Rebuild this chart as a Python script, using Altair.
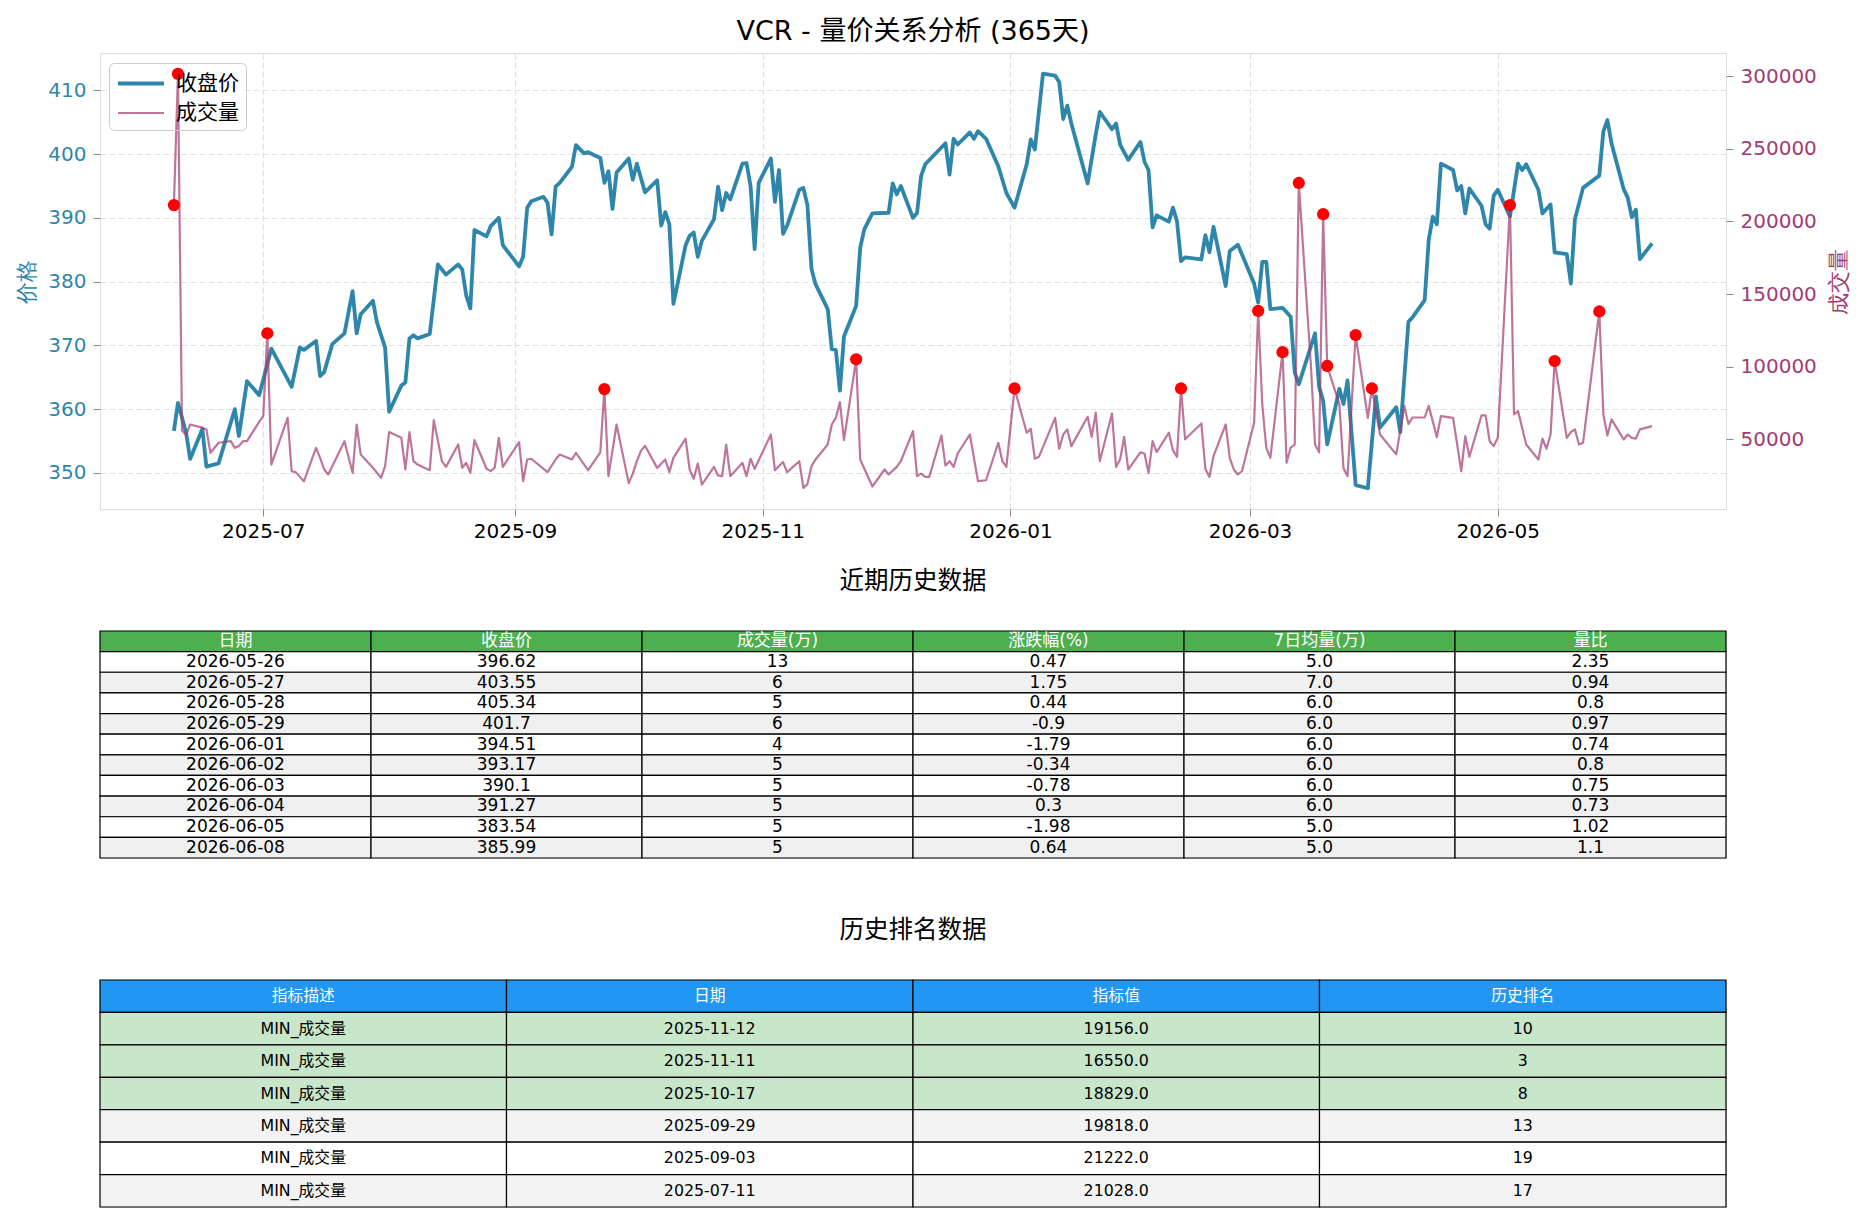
import altair as alt
import pandas as pd

FONT = "DejaVu Sans, Noto Sans CJK SC"
TICKFONT = "DejaVu Sans"
BLUE = "#2E86AB"
PINK = "#A23B72"

START = "2025-06-09"

# ---- close price (day offset from START, value) ----
price_days = [0, 1, 3, 4, 7, 8, 11, 15, 16, 18, 21, 24, 29, 31, 32, 35, 36, 37, 39, 42, 44, 45, 46, 49, 50, 52, 53,
              56, 57, 58, 59, 60, 63, 65, 67, 70, 71, 72, 73, 74, 77, 78, 80, 81, 85, 86, 87, 88, 91, 92, 93, 94, 95,
              98, 99, 101, 102, 105, 106, 107, 108, 109, 112, 113, 114, 116, 119, 120, 121, 122, 123, 126, 127, 128,
              129, 130, 133, 134, 135, 136, 137, 140, 141, 142, 143, 144, 147, 148, 149, 150, 151, 154, 155, 156, 157,
              158, 161, 162, 163, 164, 165, 168, 169, 170, 172, 176, 177, 178, 179, 182, 183, 184, 185, 190, 191, 192,
              193, 196, 197, 198, 200, 203, 205, 207, 210, 211, 212, 214, 217, 218, 219, 220, 221, 225, 227, 228, 231,
              232, 233, 235, 238, 239, 240, 241, 242, 245, 246, 247, 248, 249, 253, 254, 255, 256, 259, 260, 262, 266,
              267, 268, 269, 270, 273, 275, 276, 277, 281, 282, 283, 284, 287, 288, 289, 291, 294, 296, 297, 301, 302,
              304, 305, 308, 309, 310, 311, 312, 315, 316, 317, 318, 319, 322, 323, 324, 325, 326, 329, 331, 332, 333,
              336, 337, 339, 340, 343, 344, 345, 347, 351, 352, 353, 354, 357, 358, 359, 360, 361, 364]
price_vals = [356.6, 361.0, 356.3, 352.2, 356.9, 351.0, 351.5, 360.0, 355.8, 364.4, 362.2, 369.5, 363.5, 369.7, 369.3,
              370.7, 365.2, 365.8, 370.2, 371.9, 378.5, 371.9, 374.9, 377.0, 373.6, 369.7, 359.6, 363.7, 364.2, 371.1,
              371.6, 371.1, 371.8, 382.7, 381.1, 382.7, 381.9, 377.8, 375.8, 388.1, 387.1, 388.7, 390.0, 385.7, 382.4,
              383.9, 391.6, 392.6, 393.3, 392.4, 387.4, 394.9, 395.5, 398.0, 401.4, 400.1, 400.3, 399.4, 395.5, 397.3,
              391.4, 397.1, 399.3, 396.0, 398.5, 394.0, 395.9, 388.8, 390.9, 389.0, 376.5, 385.7, 387.2, 387.7, 383.9,
              386.4, 389.8, 394.9, 391.2, 393.9, 392.9, 398.5, 398.6, 395.0, 385.1, 395.5, 399.3, 392.5, 397.5, 387.5,
              388.8, 394.4, 394.7, 392.0, 382.0, 379.6, 375.7, 369.4, 369.3, 362.9, 371.4, 376.2, 385.3, 388.2, 390.7,
              390.8, 395.4, 393.7, 395.0, 390.0, 390.8, 396.6, 398.4, 401.7, 396.8, 402.4, 401.5, 403.4, 402.4, 403.6,
              402.4, 398.1, 393.9, 391.6, 398.4, 402.3, 400.7, 412.6, 412.3, 411.3, 405.5, 407.6, 404.8, 395.4, 403.1,
              406.6, 403.9, 404.8, 401.5, 399.1, 401.9, 398.8, 397.5, 388.5, 390.4, 389.4, 391.6, 389.5, 383.2, 383.8,
              383.5, 387.3, 384.6, 388.6, 379.3, 384.8, 385.8, 379.7, 376.7, 383.1, 383.1, 375.7, 375.9, 374.5, 365.8,
              363.9, 371.9, 363.5, 361.3, 354.5, 363.2, 360.8, 364.5, 348.1, 347.6, 362.0, 357.1, 360.3, 356.4, 373.7,
              374.4, 377.1, 386.6, 390.2, 389.0, 398.5, 397.5, 394.3, 395.0, 390.7, 394.6, 391.9, 389.0, 388.3, 393.5,
              394.4, 390.2, 398.5, 397.5, 398.4, 394.4, 390.7, 392.1, 384.6, 384.3, 379.7, 389.8, 394.7, 396.62, 403.55,
              405.34, 401.7, 394.51, 393.17, 390.1, 391.27, 383.54, 385.99]

# ---- volume (day offset from START, value) ----
vol_days = [0, 1, 2, 3, 4, 7, 8, 9, 11, 14, 15, 16, 17, 18, 21, 22, 23, 24, 28, 29, 30, 32, 35, 36, 37, 38, 42, 44, 45,
            46, 49, 51, 52, 53, 56, 57, 58, 59, 60, 63, 64, 66, 67, 70, 71, 72, 73, 74, 77, 78, 79, 80, 81, 85, 86, 87,
            88, 92, 94, 95, 98, 99, 102, 105, 106, 107, 109, 112, 113, 114, 115, 116, 119, 121, 122, 123, 126, 127, 128,
            129, 130, 133, 134, 135, 136, 137, 140, 141, 142, 143, 147, 148, 150, 151, 154, 155, 156, 157, 158, 161,
            162, 163, 164, 165, 168, 169, 172, 175, 176, 178, 179, 182, 183, 184, 185, 186, 189, 190, 191, 192, 193,
            196, 198, 200, 203, 204, 205, 207, 210, 211, 212, 213, 217, 218, 219, 220, 221, 225, 226, 227, 228, 231,
            232, 233, 234, 235, 238, 239, 240, 241, 242, 245, 246, 247, 248, 249, 253, 254, 255, 256, 259, 260, 261,
            262, 263, 266, 267, 268, 269, 270, 273, 274, 275, 276, 277, 280, 281, 282, 283, 284, 287, 288, 289, 291,
            294, 295, 297, 301, 303, 304, 305, 308, 309, 311, 312, 315, 317, 318, 319, 322, 323, 324, 325, 326, 329,
            330, 331, 333, 336, 337, 338, 339, 340, 343, 344, 345, 346, 347, 351, 352, 353, 354, 357, 358, 359, 360,
            361, 364]
vol_vals = [211300, 301600, 56000, 53000, 60200, 58000, 56800, 40700, 47600, 48700, 44100, 45300, 48700, 48700, 62000,
            66000, 123000, 32600, 64800, 28000, 27400, 21028, 44100, 37200, 29200, 25800, 48700, 26900, 60200, 39500,
            30400, 23500, 31500, 55000, 51000, 29200, 55000, 35000, 32600, 28700, 63200, 34900, 31000, 46400, 30400,
            33800, 26900, 49400, 29700, 28100, 30400, 51000, 31000, 48000, 21222, 36100, 36600, 27400, 36100, 39500,
            36100, 40700, 28700, 41000, 84600, 24600, 60200, 19818, 26400, 35000, 42000, 45500, 30300, 36100, 27400,
            37200, 50400, 29200, 22800, 33300, 18829, 31000, 25100, 24600, 46400, 24600, 33800, 24600, 36600, 29600,
            53300, 28700, 34300, 27400, 34900, 16550, 19156, 31500, 36100, 46400, 60200, 64800, 75600, 49400, 105100,
            36100, 17500, 29200, 25800, 31000, 34900, 55600, 24600, 26400, 24100, 24100, 52600, 31900, 34900, 31000,
            40200, 53300, 21200, 21800, 47600, 34900, 31000, 85000, 54500, 57300, 36600, 37900, 64800, 43500, 53300,
            56800, 45300, 65500, 51700, 68300, 34900, 67800, 31000, 36100, 51700, 29200, 41000, 40200, 26900, 48700,
            41200, 54500, 42500, 37900, 85000, 50000, 60900, 29600, 24100, 38400, 60200, 37200, 29200, 25800, 28000,
            61400, 138400, 74000, 44100, 37200, 110000, 33800, 44300, 46400, 226500, 100000, 46400, 41000, 205000,
            100500, 74000, 30300, 24600, 121800, 64800, 85000, 53300, 39600, 73000, 60500, 65000, 65000, 73000, 51500,
            66000, 64800, 28100, 52200, 38000, 66500, 66500, 48700, 45300, 51000, 211300, 67100, 69400, 46400, 36100,
            50400, 43500, 53300, 103900, 51000, 55000, 56800, 46400, 47600, 138000, 67000, 52600, 63700, 49900, 53300,
            51000, 50500, 56800, 59100]

# ---- volume spikes marked with red dots ----
spike_days = [0, 1, 23, 106, 168, 207, 248, 267, 273, 277, 283, 284, 291, 295, 329, 340, 351]

# ---- recent history table ----
t1_header = ["日期", "收盘价", "成交量(万)", "涨跌幅(%)", "7日均量(万)", "量比"]
t1_dates = ["2026-05-26", "2026-05-27", "2026-05-28", "2026-05-29", "2026-06-01",
            "2026-06-02", "2026-06-03", "2026-06-04", "2026-06-05", "2026-06-08"]
t1_close = [396.62, 403.55, 405.34, 401.7, 394.51, 393.17, 390.1, 391.27, 383.54, 385.99]
t1_vol = [13, 6, 5, 6, 4, 5, 5, 5, 5, 5]
t1_pct = [0.47, 1.75, 0.44, -0.9, -1.79, -0.34, -0.78, 0.3, -1.98, 0.64]
t1_avg7 = [5.0, 7.0, 6.0, 6.0, 6.0, 6.0, 6.0, 6.0, 5.0, 5.0]
t1_ratio = [2.35, 0.94, 0.8, 0.97, 0.74, 0.8, 0.75, 0.73, 1.02, 1.1]

# ---- ranking table ----
t2_header = ["指标描述", "日期", "指标值", "历史排名"]
t2_desc = ["MIN_成交量"] * 6
t2_dates = ["2025-11-12", "2025-11-11", "2025-10-17", "2025-09-29", "2025-09-03", "2025-07-11"]
t2_vals = [19156.0, 16550.0, 18829.0, 19818.0, 21222.0, 21028.0]
t2_rank = [10, 3, 8, 13, 19, 17]
t2_highlight = [True, True, True, False, False, False]


def to_dates(days):
    base = pd.Timestamp(START)
    return [(base + pd.Timedelta(days=int(d))).strftime("%Y-%m-%d") for d in days]


price_df = pd.DataFrame({"date": to_dates(price_days), "price": price_vals, "series": "收盘价"})
vol_df = pd.DataFrame({"date": to_dates(vol_days), "volume": vol_vals, "series": "成交量"})
spike_df = vol_df[[d in spike_days for d in vol_days]].copy()

W = 1626
H_MAIN = 456
H_TAB = 227
TICK_FS = 20
AXT_FS = 22

x_enc = alt.X(
    "date:T", title=None,
    scale=alt.Scale(type="utc", nice=False, domain=[
        alt.DateTime(year=2025, month=5, date=21, hours=19, minutes=12, utc=True),
        alt.DateTime(year=2026, month=6, date=26, hours=4, minutes=48, utc=True)]),
    axis=alt.Axis(values=[alt.DateTime(year=2025, month=7, date=1, utc=True),
                          alt.DateTime(year=2025, month=9, date=1, utc=True),
                          alt.DateTime(year=2025, month=11, date=1, utc=True),
                          alt.DateTime(year=2026, month=1, date=1, utc=True),
                          alt.DateTime(year=2026, month=3, date=1, utc=True),
                          alt.DateTime(year=2026, month=5, date=1, utc=True)],
                  format="%Y-%m", labelFontSize=TICK_FS, labelFont=TICKFONT, labelColor="black",
                  tickSize=7, labelPadding=5, grid=True, gridDash=[6, 3], gridColor="#e0e0e0",
                  gridWidth=1.2, domain=False, labelFlush=False))

series_domain = ["收盘价", "成交量"]
color_enc = alt.Color("series:N", scale=alt.Scale(domain=series_domain, range=[BLUE, PINK]),
                      legend=alt.Legend(title=None, orient="none", legendX=9, legendY=10,
                                        symbolType="M-1,0L3,0", symbolSize=529,
                                        labelFontSize=21, labelFont=FONT, labelOffset=33,
                                        strokeColor="#cccccc",
                                        cornerRadius=5, padding=7, rowPadding=6))
width_enc = alt.StrokeWidth("series:N", scale=alt.Scale(domain=series_domain, range=[3.8, 2.2]))
opac_enc = alt.Opacity("series:N", scale=alt.Scale(domain=series_domain, range=[1.0, 0.7]))

# white panel behind the legend: hides the grid there, while the volume line and dots stay on top
legend_bg = alt.Chart(pd.DataFrame({"k": [0]})).mark_rect(fill="white").encode(
    x=alt.value(10), x2=alt.value(145), y=alt.value(11), y2=alt.value(76))

price_line = alt.Chart(price_df).mark_line(strokeJoin="round").encode(
    x=x_enc,
    y=alt.Y("price:Q", scale=alt.Scale(domain=[344.35, 415.85], nice=False, zero=False),
            axis=alt.Axis(orient="left", title="价格", values=[350, 360, 370, 380, 390, 400, 410],
                          labelColor=BLUE, titleColor=BLUE, labelFontSize=TICK_FS, labelFont=TICKFONT,
                          titleFontSize=AXT_FS, titleFontWeight="normal", tickSize=7, labelPadding=7,
                          titlePadding=9, grid=True, gridDash=[6, 3], gridColor="#e0e0e0", gridWidth=1.2,
                          domain=False)),
    color=color_enc, strokeWidth=width_enc, opacity=opac_enc)

vol_axis = alt.Axis(orient="right", title="成交量",
                    values=[50000, 100000, 150000, 200000, 250000, 300000], format="d",
                    labelColor=PINK, titleColor=PINK, labelFontSize=TICK_FS, labelFont=TICKFONT,
                    titleFontSize=AXT_FS, titleFontWeight="normal", tickSize=7, labelPadding=7,
                    titlePadding=12, grid=False, domain=False, titleAngle=270, titleBaseline="top")
vol_scale = alt.Scale(domain=[2000, 316000], nice=False, zero=False)
vol_y = alt.Y("volume:Q", scale=vol_scale, axis=vol_axis)

vol_line = alt.Chart(vol_df).mark_line(strokeJoin="round").encode(
    x=x_enc, y=vol_y, color=color_enc, strokeWidth=width_enc, opacity=opac_enc)

spikes = alt.Chart(spike_df).mark_circle(color="#FF0000", size=150, opacity=1).encode(
    x=x_enc, y=vol_y)

main = alt.layer(legend_bg, price_line, alt.layer(vol_line, spikes)).resolve_scale(y="independent").properties(
    width=W, height=H_MAIN,
    title=alt.Title("VCR - 量价关系分析 (365天)", fontSize=27, font=FONT, fontWeight="normal",
                    color="black", anchor="middle", frame="group", baseline="middle", offset=-6))


def make_table(header, columns, kinds, kind_domain, kind_range, font_size, title):
    ncols = len(header)
    nrows = len(columns[0]) + 1
    recs = []
    for j, h in enumerate(header):
        recs.append(dict(c0=j, c1=j + 1, cm=j + 0.5, r0=0, r1=1, rm=0.5, label=h, kind="head"))
    for i in range(nrows - 1):
        for j in range(ncols):
            recs.append(dict(c0=j, c1=j + 1, cm=j + 0.5, r0=i + 1, r1=i + 2, rm=i + 1.5,
                             label=str(columns[j][i]), kind=kinds[i]))
    df = pd.DataFrame(recs)
    xs = alt.Scale(domain=[0, ncols], nice=False, zero=False)
    ys = alt.Scale(domain=[0, nrows], nice=False, zero=False, reverse=True)
    rects = alt.Chart(df).mark_rect(stroke="black", strokeWidth=1.2).encode(
        x=alt.X("c0:Q", scale=xs, axis=None), x2="c1:Q",
        y=alt.Y("r0:Q", scale=ys, axis=None), y2="r1:Q",
        fill=alt.Fill("kind:N", scale=alt.Scale(domain=kind_domain, range=kind_range), legend=None))
    texts = alt.Chart(df).mark_text(font=FONT, fontSize=font_size, baseline="middle", align="center").encode(
        x=alt.X("cm:Q", scale=xs, axis=None),
        y=alt.Y("rm:Q", scale=ys, axis=None),
        text="label:N",
        color=alt.condition("datum.kind == 'head'", alt.value("white"), alt.value("black")))
    return alt.layer(rects, texts).properties(
        width=W, height=H_TAB,
        title=alt.Title(title, fontSize=24.5, font=FONT, fontWeight="normal", color="black",
                        anchor="middle", frame="group", baseline="middle", offset=24))


t1_kinds = ["white" if i % 2 == 0 else "gray" for i in range(len(t1_dates))]
table1 = make_table(t1_header, [t1_dates, t1_close, t1_vol, t1_pct, t1_avg7, t1_ratio], t1_kinds,
                    ["head", "white", "gray"], ["#4CAF50", "#FFFFFF", "#F0F0F0"], 17, "近期历史数据")

t2_kinds = ["green" if t2_highlight[i] else ("gray" if i % 2 == 1 else "white") for i in range(len(t2_dates))]
table2 = make_table(t2_header, [t2_desc, t2_dates, t2_vals, t2_rank], t2_kinds,
                    ["head", "green", "white", "gray"], ["#2196F3", "#C8E6C9", "#FFFFFF", "#F3F3F3"],
                    15.8, "历史排名数据")

chart = alt.vconcat(main, table1, table2, spacing=122, bounds="flush").resolve_scale(
    x="independent", y="independent", color="independent", fill="independent",
    strokeWidth="independent", opacity="independent"
).properties(
    padding={"left": 15, "top": 17, "right": 11, "bottom": 12}
).configure_view(
    stroke="#1a1a1a", strokeWidth=1.6
).configure_axis(
    labelFont=TICKFONT, titleFont=FONT, tickColor="black", tickWidth=1.3, titleFontWeight="normal"
).configure(background="white")

chart.save("out.html", embed_options={"renderer": "svg", "actions": False})
